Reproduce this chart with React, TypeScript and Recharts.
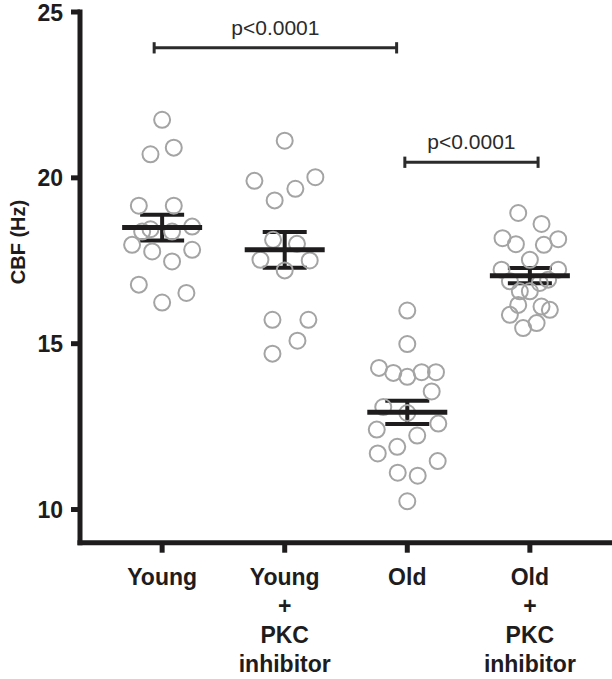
import {
  ComposedChart,
  Scatter,
  XAxis,
  YAxis,
  ErrorBar,
  ReferenceLine,
  Customized,
} from "recharts";

const categories = ["Young", "Young + PKC inhibitor", "Old", "Old + PKC inhibitor"];
const categoryLines = [["Young"], ["Young", "+", "PKC", "inhibitor"], ["Old"], ["Old", "+", "PKC", "inhibitor"]];
const xTicks = [1, 2, 3, 4];
const yTicks = [10, 15, 20, 25];
const yLabel = "CBF (Hz)";

// individual cells, x = group position + horizontal jitter
const young = [
  { x: 1.0, y: 21.75 }, { x: 1.095, y: 20.91 }, { x: 0.905, y: 20.71 },
  { x: 0.81, y: 19.16 }, { x: 1.095, y: 19.16 }, { x: 0.837, y: 18.38 },
  { x: 0.905, y: 18.45 }, { x: 1.081, y: 18.38 }, { x: 1.245, y: 18.53 },
  { x: 0.755, y: 17.98 }, { x: 0.919, y: 17.78 }, { x: 1.245, y: 17.83 },
  { x: 1.081, y: 17.48 }, { x: 0.81, y: 16.78 }, { x: 1.0, y: 16.24 },
  { x: 1.198, y: 16.53 },
];
const youngPkc = [
  { x: 2.0, y: 21.12 }, { x: 1.753, y: 19.91 }, { x: 2.25, y: 20.02 },
  { x: 2.087, y: 19.67 }, { x: 1.918, y: 19.32 }, { x: 1.905, y: 18.13 },
  { x: 2.1, y: 18.01 }, { x: 1.802, y: 17.53 }, { x: 2.204, y: 17.51 },
  { x: 2.0, y: 17.21 }, { x: 1.9, y: 15.72 }, { x: 2.193, y: 15.72 },
  { x: 2.104, y: 15.09 }, { x: 1.9, y: 14.7 },
];
const old = [
  { x: 3.0, y: 16.0 }, { x: 3.0, y: 14.99 }, { x: 2.769, y: 14.27 },
  { x: 2.886, y: 14.12 }, { x: 3.0, y: 14.0 }, { x: 3.117, y: 14.14 },
  { x: 3.234, y: 14.14 }, { x: 3.199, y: 13.56 }, { x: 2.804, y: 13.09 },
  { x: 3.0, y: 12.91 }, { x: 2.751, y: 12.41 }, { x: 3.253, y: 12.59 },
  { x: 3.081, y: 12.23 }, { x: 2.918, y: 11.89 }, { x: 2.759, y: 11.69 },
  { x: 3.248, y: 11.46 }, { x: 2.922, y: 11.11 }, { x: 3.085, y: 11.02 },
  { x: 3.0, y: 10.25 },
];
const oldPkc = [
  { x: 3.905, y: 18.94 }, { x: 4.095, y: 18.61 }, { x: 3.777, y: 18.18 },
  { x: 3.886, y: 18.0 }, { x: 4.114, y: 17.98 }, { x: 4.231, y: 18.15 },
  { x: 4.0, y: 17.53 }, { x: 3.769, y: 17.23 }, { x: 4.231, y: 17.23 },
  { x: 3.837, y: 16.88 }, { x: 4.149, y: 16.93 }, { x: 3.918, y: 16.58 },
  { x: 4.0, y: 16.58 }, { x: 4.081, y: 16.83 }, { x: 3.905, y: 16.17 },
  { x: 4.095, y: 16.12 }, { x: 4.163, y: 16.02 }, { x: 3.837, y: 15.87 },
  { x: 3.945, y: 15.47 }, { x: 4.055, y: 15.62 },
];

// mean ± SEM per group
const means = [
  { x: 1, y: 18.5, sem: 0.39 },
  { x: 2, y: 17.83, sem: 0.54 },
  { x: 3, y: 12.93, sem: 0.35 },
  { x: 4, y: 17.05, sem: 0.23 },
];

// significance brackets
const brackets = [
  { x1: 0.935, x2: 2.913, y: 23.92, label: "p<0.0001" },
  { x1: 2.98, x2: 4.067, y: 20.47, label: "p<0.0001" },
];

const FONT = "'Liberation Sans', Arial, Helvetica, sans-serif";
const INK = "#1e1c1d";

const OpenCircle = (props: any) => (
  <circle cx={props.cx} cy={props.cy} r={8} fill="none" stroke="#a4a4a4" strokeWidth={2} />
);

const MeanLine = (props: any) => (
  <line x1={props.cx - 40} x2={props.cx + 40} y1={props.cy} y2={props.cy} stroke={INK} strokeWidth={5} />
);

const CategoryTick = (props: any) => {
  const { x, y, payload } = props;
  const lines = categoryLines[xTicks.indexOf(payload.value)] ?? [];
  return (
    <text x={x} y={y} textAnchor="middle" fontSize={23} fontWeight="bold" fill={INK} fontFamily={FONT}>
      {lines.map((l, i) => (
        <tspan key={i} x={x} dy={i === 0 ? 30 : 29}>
          {l}
        </tspan>
      ))}
    </text>
  );
};

const YTitle = () => (
  <text
    x={18}
    y={242}
    transform="rotate(-90 18 242)"
    textAnchor="middle"
    dominantBaseline="central"
    style={{ fontSize: 20, fontWeight: 700, fontFamily: FONT, fill: INK }}
  >
    {yLabel}
  </text>
);

export default function App() {
  const capH = 0.17;
  return (
    <div style={{ position: "absolute", left: 0, top: 0, background: "#fff" }}>
      <ComposedChart
        width={612}
        height={679}
        margin={{ top: 12, right: 0, bottom: 0, left: 0 }}
        title={categories.join(", ")}
      >
        <XAxis
          type="number"
          dataKey="x"
          domain={[0.33, 4.67]}
          ticks={xTicks}
          allowDataOverflow
          height={136.3}
          tickSize={10}
          tickMargin={2}
          axisLine={{ stroke: INK, strokeWidth: 5, strokeLinecap: "square" }}
          tickLine={{ stroke: INK, strokeWidth: 5 }}
          tick={<CategoryTick />}
          interval={0}
        />
        <YAxis
          type="number"
          dataKey="y"
          domain={[9, 25]}
          ticks={yTicks}
          allowDataOverflow
          width={80}
          tickSize={9}
          tickMargin={8}
          axisLine={{ stroke: INK, strokeWidth: 5, strokeLinecap: "square" }}
          tickLine={{ stroke: INK, strokeWidth: 5 }}
          tick={{ fontSize: 23, fontWeight: "bold", fill: INK, fontFamily: FONT }}
        />
        <Scatter data={young} shape={OpenCircle} isAnimationActive={false} />
        <Scatter data={youngPkc} shape={OpenCircle} isAnimationActive={false} />
        <Scatter data={old} shape={OpenCircle} isAnimationActive={false} />
        <Scatter data={oldPkc} shape={OpenCircle} isAnimationActive={false} />
        <Scatter data={means} shape={MeanLine} isAnimationActive={false}>
          <ErrorBar dataKey="sem" direction="y" width={22} strokeWidth={4} stroke={INK} isAnimationActive={false} />
        </Scatter>
        {brackets.map((b, i) => (
          <ReferenceLine
            key={`b${i}`}
            segment={[{ x: b.x1, y: b.y }, { x: b.x2, y: b.y }]}
            stroke="#2b2b2b"
            strokeWidth={3}
            ifOverflow="visible"
            label={{ value: b.label, position: "top", offset: 13, fontSize: 21, fill: "#2b2b2b", fontFamily: FONT }}
          />
        ))}
        {brackets.map((b, i) => (
          <ReferenceLine
            key={`l${i}`}
            segment={[{ x: b.x1, y: b.y - capH }, { x: b.x1, y: b.y + capH }]}
            stroke="#2b2b2b"
            strokeWidth={3}
            ifOverflow="visible"
          />
        ))}
        {brackets.map((b, i) => (
          <ReferenceLine
            key={`r${i}`}
            segment={[{ x: b.x2, y: b.y - capH }, { x: b.x2, y: b.y + capH }]}
            stroke="#2b2b2b"
            strokeWidth={3}
            ifOverflow="visible"
          />
        ))}
        <Customized component={YTitle} />
      </ComposedChart>
    </div>
  );
}
